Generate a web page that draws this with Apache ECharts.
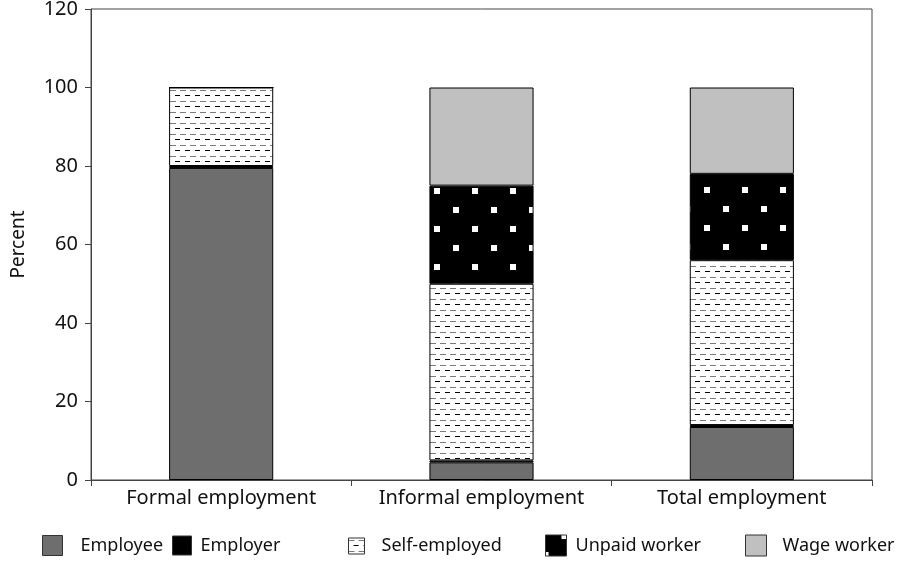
<!DOCTYPE html>
<html>
<head>
<meta charset="utf-8">
<script src="https://cdn.jsdelivr.net/npm/echarts@6/dist/echarts.min.js"></script>
<style>
  html, body { margin: 0; padding: 0; background: #fff; }
  #chart { width: 903px; height: 561px; }
</style>
</head>
<body>
<div id="chart"></div>
<script>
// data (percent of each employment type)
const categories = ['Formal employment', 'Informal employment', 'Total employment']
const employee = [79.5, 4.5, 13.5]
const employer = [0.5, 0.5, 0.5]
const selfEmployed = [20, 45, 42]
const unpaidWorker = [0, 25, 22]
const wageWorker = [0, 25, 22]
const yTicks = [0, 20, 40, 60, 80, 100, 120]

// dashed-line fill for self-employed
function dashPattern () {
  const c = document.createElement('canvas')
  c.width = 10
  c.height = 11
  const ctx = c.getContext('2d')
  ctx.fillStyle = '#fff'
  ctx.fillRect(0, 0, 10, 11)
  ctx.fillStyle = '#7a7a7a'
  ctx.fillRect(0, 2, 6, 1)
  ctx.fillStyle = '#000'
  ctx.fillRect(5, 7, 5, 1)
  return c
}

// black fill with white squares for unpaid worker, dx/dy = centre of first square
function dotPattern (dx, dy) {
  const n = 38
  const s = 6
  const c = document.createElement('canvas')
  c.width = n
  c.height = n
  const ctx = c.getContext('2d')
  ctx.fillStyle = '#000'
  ctx.fillRect(0, 0, n, n)
  ctx.fillStyle = '#fff'
  const centres = [[dx, dy], [dx + n / 2, dy + n / 2]]
  centres.forEach(([cx, cy]) => {
    cx = ((cx % n) + n) % n
    cy = ((cy % n) + n) % n
    for (const ox of [-n, 0, n]) {
      for (const oy of [-n, 0, n]) {
        ctx.fillRect(cx - s / 2 + ox, cy - s / 2 + oy, s, s)
      }
    }
  })
  return c
}

const font = 'Noto Sans'
const dots = [dotPattern(19, 1), dotPattern(19, 1), dotPattern(23, 0)]
const seriesDefs = [
  { name: 'Employee', data: employee, color: '#6e6e6e' },
  { name: 'Employer', data: employer, color: '#000' },
  { name: 'Self-employed', data: selfEmployed, color: { image: dashPattern(), repeat: 'repeat' } },
  { name: 'Unpaid worker', data: unpaidWorker, color: { image: dots[0], repeat: 'repeat' }, perBar: dots },
  { name: 'Wage worker', data: wageWorker, color: '#c0c0c0' }
]

// one legend per item so the uneven spacing can be kept
const legendPos = [42, 172, 348, 545, 745]
const legendIcon = [20, 19, 16, 21, 21]
const legendGap = [13, 4, 12, 4, 11]
const legends = seriesDefs.map((s, i) => ({
  data: [s.name],
  icon: 'rect',
  left: legendPos[i],
  top: 545 - legendIcon[i] / 2,
  padding: 0,
  itemWidth: legendIcon[i],
  itemHeight: legendIcon[i],
  itemGap: 0,
  selectedMode: false,
  itemStyle: { borderColor: '#333', borderWidth: 1 },
  textStyle: { fontFamily: font, fontSize: 18, color: '#111', padding: [0, 0, 0, legendGap[i]] }
}))

const option = {
  animation: false,
  backgroundColor: '#fff',
  grid: {
    left: 91,
    right: 31,
    top: 9,
    bottom: 81,
    outerBoundsMode: 'none',
    show: true,
    borderColor: '#444',
    borderWidth: 1
  },
  legend: legends,
  xAxis: {
    type: 'category',
    data: categories,
    axisLine: { lineStyle: { color: '#444' } },
    axisTick: { show: true, alignWithLabel: false, length: 6, lineStyle: { color: '#444' } },
    axisLabel: { interval: 0, fontFamily: font, fontSize: 20, color: '#111', margin: 8 }
  },
  yAxis: {
    type: 'value',
    min: 0,
    max: 120,
    interval: 20,
    name: 'Percent',
    nameLocation: 'middle',
    nameGap: 63,
    nameTextStyle: { fontFamily: font, fontSize: 19, color: '#111' },
    axisLine: { show: true, lineStyle: { color: '#444' } },
    axisTick: { show: true, length: 6, lineStyle: { color: '#444' } },
    splitLine: { show: false },
    axisLabel: {
      fontFamily: font,
      fontSize: 20,
      color: '#111',
      margin: 13,
      formatter: v => (yTicks.includes(v) ? String(v) : '')
    }
  },
  series: seriesDefs.map(s => ({
    name: s.name,
    type: 'bar',
    stack: 'total',
    barWidth: '40%',
    data: s.perBar
      ? s.data.map((v, i) => ({ value: v, itemStyle: { color: { image: s.perBar[i], repeat: 'repeat' } } }))
      : s.data,
    itemStyle: { color: s.color, borderColor: '#000', borderWidth: 1 }
  }))
}

const myChart = echarts.init(document.getElementById('chart'), null, { renderer: 'canvas' })
myChart.setOption(option)
</script>
</body>
</html>
